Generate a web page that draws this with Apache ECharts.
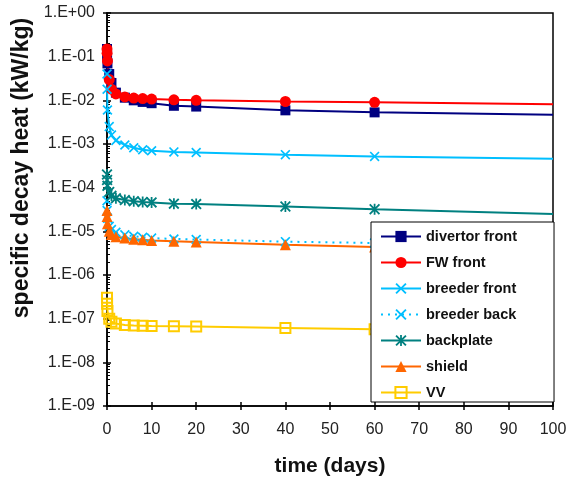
<!DOCTYPE html>
<html><head><meta charset="utf-8">
<script src="https://cdn.jsdelivr.net/npm/echarts@6/dist/echarts.min.js"></script>
<style>html,body{margin:0;padding:0;background:#fff}#c{width:573px;height:482px}</style>
</head><body><div id="c"></div>
<script>
const times = [0, 0.02, 0.1, 0.5, 1, 2, 4, 6, 8, 10, 15, 20, 40, 60, 100];
const divertorFront = [1.5e-1, 1.1e-1, 7e-2, 4e-2, 2.5e-2, 1.5e-2, 1.15e-2, 1.0e-2, 9.2e-3, 8.6e-3, 7.5e-3, 7.2e-3, 5.9e-3, 5.3e-3, 4.7e-3];
const fwFront = [1.5e-1, 1.2e-1, 8e-2, 3e-2, 1.8e-2, 1.4e-2, 1.2e-2, 1.13e-2, 1.1e-2, 1.07e-2, 1.03e-2, 1.0e-2, 9.4e-3, 9.0e-3, 8.1e-3];
const breederFront = [4e-2, 1.8e-2, 6e-3, 2.5e-3, 1.6e-3, 1.2e-3, 9.5e-4, 8.2e-4, 7.4e-4, 7.0e-4, 6.6e-4, 6.4e-4, 5.7e-4, 5.2e-4, 4.6e-4];
const breederBack = [5e-5, 3e-5, 2e-5, 1.3e-5, 1.1e-5, 9.5e-6, 8.3e-6, 7.7e-6, 7.3e-6, 7.0e-6, 6.7e-6, 6.5e-6, 5.8e-6, 5.4e-6, 4.9e-6];
const backplate = [2e-4, 1.5e-4, 1.1e-4, 8e-5, 6.5e-5, 5.7e-5, 5.2e-5, 4.9e-5, 4.7e-5, 4.6e-5, 4.3e-5, 4.2e-5, 3.7e-5, 3.2e-5, 2.5e-5];
const shield = [3e-5, 2.2e-5, 1.5e-5, 1e-5, 8.5e-6, 7.5e-6, 7e-6, 6.6e-6, 6.4e-6, 6.2e-6, 5.9e-6, 5.7e-6, 4.9e-6, 4.4e-6, 3.6e-6];
const vv = [3e-7, 2.2e-7, 1.5e-7, 1e-7, 8.5e-8, 7.7e-8, 7.2e-8, 7.0e-8, 6.9e-8, 6.8e-8, 6.7e-8, 6.6e-8, 6.1e-8, 5.7e-8, 5.0e-8];
const seriesNames = ['divertor front', 'FW front', 'breeder front', 'breeder back', 'backplate', 'shield', 'VV'];
const xTicks = [0, 100, 10];
const yRange = [1e-9, 1];
const decades = [-9, -8, -7, -6, -5, -4, -3, -2, -1];
const minorMantissas = [2, 3, 4, 5, 6, 7, 8, 9];

const xPath = 'path://M0,1.2L1.2,0L5,3.8L8.8,0L10,1.2L6.2,5L10,8.8L8.8,10L5,6.2L1.2,10L0,8.8L3.8,5Z';
const starPath = 'path://M0,1.2L1.2,0L5,3.8L8.8,0L10,1.2L6.2,5L10,8.8L8.8,10L5,6.2L1.2,10L0,8.8L3.8,5Z M4.2,0L5.8,0L5.8,10L4.2,10Z';

const styles = [
  {color:'#000080', symbol:'rect', size:10},
  {color:'#FF0000', symbol:'circle', size:11},
  {color:'#00BFFF', symbol:xPath, size:10},
  {color:'#00BFFF', symbol:xPath, size:10, dotted:true},
  {color:'#008080', symbol:starPath, size:11},
  {color:'#FF6600', symbol:'triangle', size:11},
  {color:'#FFCC00', symbol:'rect', size:10, hollow:true}
];
const allValues = [divertorFront, fwFront, breederFront, breederBack, backplate, shield, vv];
const last = times.length - 1;

const series = allValues.map((vals, i) => {
  const s = styles[i];
  return {
    name: seriesNames[i],
    type: 'line',
    xAxisIndex: 0, yAxisIndex: 0,
    data: vals.map((v, k) => [times[k], v]),
    symbol: s.symbol,
    symbolSize: (val, p) => p.dataIndex === last ? 0 : s.size,
    showAllSymbol: true,
    lineStyle: {color: s.color, width: 2, type: s.dotted ? [2, 5] : 'solid'},
    itemStyle: s.hollow ? {color: 'rgba(255,255,255,0)', borderColor: s.color, borderWidth: 2} : {color: s.color, borderWidth: 0},
    emphasis: {disabled: true},
    z: 2
  };
});

const fmt = v => {
  const e = Math.round(Math.log10(v));
  return '1.E' + (e >= 0 ? '+' : '-') + String(Math.abs(e)).padStart(2, '0');
};
const minorVals = [];
decades.forEach(d => minorMantissas.forEach(m => minorVals.push(m * Math.pow(10, d))));

const chart = echarts.init(document.getElementById('c'), null, {renderer: 'canvas'});
chart.setOption({
  animation: false,
  backgroundColor: '#fff',
  grid: {left: 107, right: 20, top: 13, bottom: 73, show: true, borderColor: '#000', borderWidth: 1.5, containLabel: false},
  xAxis: [
    {type: 'value', min: xTicks[0], max: xTicks[1], interval: xTicks[2], position: 'bottom',
      axisLine: {show: true, onZero: false, lineStyle: {color: '#000', width: 1.5}},
      axisTick: {show: true, inside: false, length: 4, lineStyle: {color: '#000', width: 1.5}},
      axisLabel: {color: '#222', fontSize: 16, fontFamily: 'Liberation Sans, Arial', margin: 16},
      splitLine: {show: false},
      name: 'time (days)', nameLocation: 'middle', nameGap: 50,
      nameTextStyle: {color: '#111', fontSize: 21, fontWeight: 'bold', fontFamily: 'Liberation Sans, Arial'}},
    {type: 'value', min: xTicks[0], max: xTicks[1], interval: xTicks[2], position: 'bottom',
      axisLine: {show: false, onZero: false},
      axisTick: {show: true, inside: true, length: 4, lineStyle: {color: '#000', width: 1.5}},
      axisLabel: {show: false}, splitLine: {show: false}}
  ],
  yAxis: [
    {type: 'log', logBase: 10, min: yRange[0], max: yRange[1], interval: 1, position: 'left',
      axisLine: {show: true, onZero: false, lineStyle: {color: '#000', width: 1.5}},
      axisTick: {show: true, inside: false, length: 4, lineStyle: {color: '#000', width: 1.5}},
      axisLabel: {color: '#222', fontSize: 16, fontFamily: 'Liberation Sans, Arial', margin: 12, formatter: fmt},
      splitLine: {show: false}},
    {type: 'log', logBase: 10, min: yRange[0], max: yRange[1], interval: 1, position: 'left',
      axisLine: {show: false, onZero: false},
      axisTick: {show: true, inside: true, length: 4, lineStyle: {color: '#000', width: 1.5}},
      axisLabel: {show: false}, splitLine: {show: false}},
    {type: 'log', logBase: 10, min: yRange[0], max: yRange[1], position: 'left',
      axisLine: {show: false, onZero: false},
      axisTick: {show: true, inside: true, length: 3, customValues: minorVals, lineStyle: {color: '#000', width: 1}},
      axisLabel: {show: false}, splitLine: {show: false}}
  ],
  legend: {
    orient: 'vertical', left: 371, top: 222, z: 20,
    padding: [7, 37, 2, 9], itemGap: 11, itemWidth: 40, itemHeight: 14,
    backgroundColor: '#fff', borderColor: '#000', borderWidth: 1,
    textStyle: {color: '#111', fontSize: 14.5, fontWeight: 'bold', fontFamily: 'Liberation Sans, Arial'},
    data: seriesNames
  },
  graphic: [{
    type: 'text', x: 22, y: 168, rotation: Math.PI / 2,
    style: {text: 'specific decay heat (kW/kg)', fill: '#111', font: 'bold 23px "Liberation Sans", Arial', align: 'center', verticalAlign: 'middle'}
  }],
  series: series
});
</script></body></html>
